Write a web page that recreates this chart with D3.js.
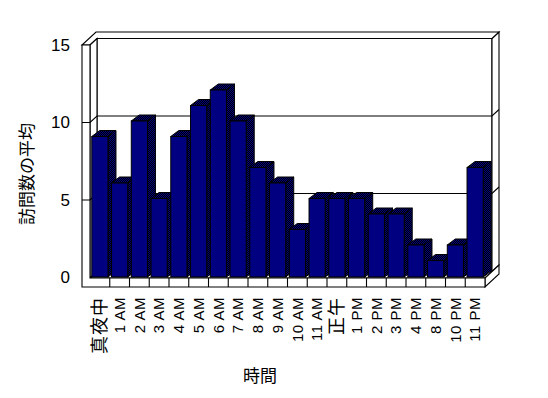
<!DOCTYPE html>
<html>
<head>
<meta charset="utf-8">
<script src="https://cdn.jsdelivr.net/npm/d3@7"></script>
<style>
  body { margin: 0; background: #fff; }
  text { font-family: "Liberation Sans", "Noto Sans CJK JP", sans-serif; fill: #000; }
</style>
</head>
<body>
<div id="chart"></div>
<script>
// data
let hours = ["真夜中", "1 AM", "2 AM", "3 AM", "4 AM", "5 AM", "6 AM", "7 AM", "8 AM", "9 AM",
             "10 AM", "11 AM", "正午", "1 PM", "2 PM", "3 PM", "4 PM", "8 PM", "10 PM", "11 PM"];
let visits = [9, 6, 10, 5, 9, 11, 12, 10, 7, 6, 3, 5, 5, 5, 4, 4, 2, 1, 2, 7];
let yTicks = [0, 5, 10, 15];
let yTitle = "訪問数の平均";
let xTitle = "時間";

let w = 548, h = 398;

let svg = d3.select("#chart")
            .append("svg")
            .attr("width", w)
            .attr("height", h);

svg.append("rect").attr("width", w).attr("height", h).attr("fill", "#fff");

// checker pattern for the shaded bar faces
let pat = svg.append("defs").append("pattern")
             .attr("id", "dither")
             .attr("patternUnits", "userSpaceOnUse")
             .attr("width", 2).attr("height", 2);
pat.append("rect").attr("width", 2).attr("height", 2).attr("fill", "#000");
pat.append("rect").attr("width", 1).attr("height", 1).attr("fill", "#000080");
pat.append("rect").attr("x", 1).attr("y", 1).attr("width", 1).attr("height", 1).attr("fill", "#000080");

// front plane scales
let x = d3.scaleBand()
          .domain(hours)
          .range([90, 485])
          .paddingInner(0.18)
          .paddingOuter(0.09);
let y = d3.scaleLinear()
          .domain([0, 15])
          .range([277.5, 45]);

// depth step from front plane to back wall
let dx = 7, dy = -6.5;
let wallOut = 82, floorBot = 287;
let x0 = 90, x1 = 485;
let yTop = y(15), yFloor = 278;

let frame = svg.append("g")
               .attr("fill", "#fff")
               .attr("stroke", "#000")
               .attr("stroke-width", 1.1)
               .attr("stroke-linejoin", "miter");

let poly = pts => frame.append("polygon").attr("points", pts.map(p => p.join(",")).join(" "));

// back wall and its right side
poly([[x0 + dx, yTop + dy], [x1 + dx, yTop + dy], [x1 + dx, yFloor + dy], [x0 + dx, yFloor + dy]]);
poly([[x1 + dx, yTop + dy], [x1 + 2 * dx, yTop + 2 * dy], [x1 + 2 * dx, yFloor + 2 * dy], [x1 + dx, yFloor + dy]]);
// top of the walls
poly([[wallOut, yTop], [x0, yTop], [x0 + dx, yTop + dy], [x1 + dx, yTop + dy],
      [x1 + 2 * dx, yTop + 2 * dy], [wallOut + 2 * dx, yTop + 2 * dy]]);
// inner face of left wall
poly([[x0, yTop], [x0 + dx, yTop + dy], [x0 + dx, yFloor + dy], [x0, yFloor]]);
// floor top and right side
poly([[x0, yFloor], [x1, yFloor], [x1 + dx, yFloor + dy], [x0 + dx, yFloor + dy]]);
poly([[x1, yFloor], [x1, floorBot], [x1 + 2 * dx, floorBot + 2 * dy], [x1 + 2 * dx, yFloor + 2 * dy]]);
// front L face (left wall + floor)
poly([[wallOut, yTop], [x0, yTop], [x0, yFloor], [x1, yFloor], [x1, floorBot], [wallOut, floorBot]]);

// floor dividers
frame.selectAll("line.div")
     .data(hours.slice(1))
     .enter()
     .append("line")
     .attr("x1", d => x(d) - x.step() * x.paddingInner() / 2)
     .attr("x2", d => x(d) - x.step() * x.paddingInner() / 2)
     .attr("y1", yFloor)
     .attr("y2", floorBot);

// gridlines
let grid = svg.append("g")
              .attr("fill", "none")
              .attr("stroke", "#000")
              .attr("stroke-width", 1.1);
grid.selectAll("polyline")
    .data(yTicks.filter(v => v > 0 && v < 15))
    .enter()
    .append("polyline")
    .attr("points", v => [[wallOut, y(v)], [x0, y(v)], [x0 + dx, y(v) + dy],
                          [x1 + dx, y(v) + dy], [x1 + 2 * dx, y(v) + 2 * dy]].map(p => p.join(",")).join(" "));

// bars, left to right so the next front face covers the previous side
let bdx = 8, bdy = -6, lift = 1.5;
let bars = svg.append("g")
              .attr("stroke", "#000")
              .attr("stroke-width", 1);
hours.forEach((hr, i) => {
  let bx = x(hr), bw = x.bandwidth();
  let top = y(visits[i]) - lift, bot = yFloor - 1;
  let g = bars.append("g");
  g.append("polygon")
   .attr("points", [[bx + bw, top], [bx + bw + bdx, top + bdy], [bx + bw + bdx, bot + bdy], [bx + bw, bot]].join(" "))
   .attr("fill", "url(#dither)");
  g.append("polygon")
   .attr("points", [[bx, top], [bx + bdx, top + bdy], [bx + bw + bdx, top + bdy], [bx + bw, top]].join(" "))
   .attr("fill", "url(#dither)");
  g.append("rect")
   .attr("x", bx).attr("y", top)
   .attr("width", bw).attr("height", bot - top)
   .attr("fill", "#000080");
});

// y tick labels
svg.append("g")
   .selectAll("text")
   .data(yTicks)
   .enter()
   .append("text")
   .attr("x", 70)
   .attr("y", d => y(d))
   .attr("dy", "0.35em")
   .attr("text-anchor", "end")
   .style("font-size", "17px")
   .text(d => d);

// x tick labels, rotated
svg.append("g")
   .selectAll("text")
   .data(hours)
   .enter()
   .append("text")
   .attr("transform", d => "translate(" + (x(d) + x.bandwidth() / 2) + ",297) rotate(-90)")
   .attr("dy", "0.35em")
   .attr("text-anchor", "end")
   .style("font-size", d => /[^\x00-\x7f]/.test(d) ? "18px" : "15px")
   .style("letter-spacing", d => /[^\x00-\x7f]/.test(d) ? "1px" : "0.5px")
   .text(d => d);

// titles
svg.append("text")
   .attr("transform", "translate(27,174) rotate(-90)")
   .attr("dy", "0.35em")
   .attr("text-anchor", "middle")
   .style("font-size", "17px")
   .text(yTitle);

svg.append("text")
   .attr("x", 260)
   .attr("y", 376)
   .attr("dy", "0.35em")
   .attr("text-anchor", "middle")
   .style("font-size", "17px")
   .text(xTitle);
</script>
</body>
</html>
